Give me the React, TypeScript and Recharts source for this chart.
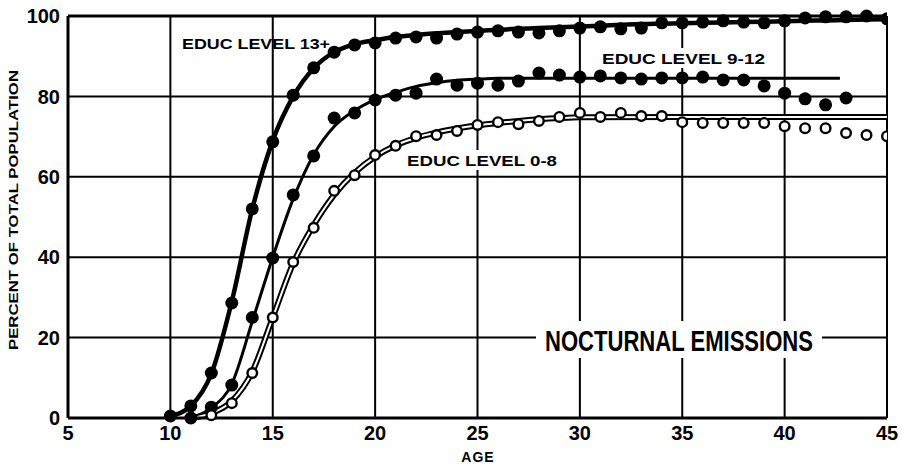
import { ComposedChart, Line, Scatter, XAxis, YAxis, CartesianGrid, ReferenceLine } from 'recharts'

const ageTicks = [5, 10, 15, 20, 25, 30, 35, 40, 45]
const pctTicks = [0, 20, 40, 60, 80, 100]

// plotted points
const agesHigh = [10, 11, 12, 13, 14, 15, 16, 17, 18, 19, 20, 21, 22, 23, 24, 25, 26, 27, 28, 29, 30, 31, 32, 33, 34, 35, 36, 37, 38, 39, 40, 41, 42, 43, 44, 45]
const pointsHigh = [0.5, 3, 11.2, 28.6, 52, 68.7, 80.3, 87.1, 91, 92.8, 93.3, 94.5, 94.8, 94.5, 95.5, 96, 96.3, 96, 95.8, 96.3, 97, 97.3, 96.8, 97, 98.3, 98.3, 98.5, 98.8, 98.5, 98.3, 98.8, 99.5, 99.8, 99.8, 100, 99.3]

const agesMid = [11, 12, 13, 14, 15, 16, 17, 18, 19, 20, 21, 22, 23, 24, 25, 26, 27, 28, 29, 30, 31, 32, 33, 34, 35, 36, 37, 38, 39, 40, 41, 42, 43]
const pointsMid = [0, 2.7, 8.2, 25, 39.8, 55.5, 65.2, 74.6, 75.9, 79.1, 80.3, 80.8, 84.3, 82.8, 83.3, 82.8, 83.8, 85.8, 85.3, 84.8, 85.1, 84.6, 84.3, 84.6, 84.6, 84.8, 84.1, 84.1, 82.6, 80.8, 79.4, 77.9, 79.6]

const agesLow = [12, 13, 14, 15, 16, 17, 18, 19, 20, 21, 22, 23, 24, 25, 26, 27, 28, 29, 30, 31, 32, 33, 34, 35, 36, 37, 38, 39, 40, 41, 42, 43, 44, 45]
const pointsLow = [0.7, 3.7, 11.2, 25, 38.8, 47.3, 56.5, 60.4, 65.4, 67.7, 70.1, 70.4, 71.4, 72.9, 73.6, 73.1, 73.9, 74.9, 75.9, 74.9, 75.9, 75.1, 75.1, 73.6, 73.4, 73.4, 73.4, 73.4, 72.6, 72.1, 72.1, 70.9, 70.4, 70.1]

// drawn (smoothed) curves
const fitHigh = [0.5, 3, 11, 29, 52, 69, 80, 87, 91, 93, 94, 94.8, 95.3, 95.7, 96, 96.3, 96.6, 96.8, 97, 97.2, 97.4, 97.6, 97.8, 98, 98.1, 98.2, 98.3, 98.4, 98.5, 98.6, 98.7, 98.8, 98.9, 99, 99.1, 99.2]

const fitMidAges = [11, 12, 13, 14, 15, 16, 17, 18, 19, 20, 21, 22, 23, 24, 25, 26, 30, 35, 40, 42.7]
const fitMid = [0, 2.5, 8.5, 24, 40, 54.5, 65.5, 72.5, 76.5, 79.2, 81, 82.5, 83.4, 84, 84.3, 84.5, 84.5, 84.5, 84.5, 84.5]

const fitLowAges = [11, 12, 13, 14, 15, 16, 17, 18, 19, 20, 21, 22, 23, 24, 25, 26, 27, 28, 29, 30, 35, 40, 45]
const fitLow = [0, 1.2, 4.2, 11.5, 25, 38.5, 48, 55.5, 61, 65, 67.8, 69.7, 71, 72, 72.8, 73.4, 73.9, 74.3, 74.6, 74.8, 74.9, 74.9, 74.9]

const zip = (xs: number[], ys: number[]) => xs.map((age, i) => ({ age, pct: ys[i] }))

const FONT = "'Liberation Sans', Arial, sans-serif"

const solidDot = (p: any) => <circle cx={p.cx} cy={p.cy} r={6.5} fill="#000" />
const openDot = (p: any) => <circle cx={p.cx} cy={p.cy} r={4.8} fill="#fff" stroke="#000" strokeWidth={2.4} />

export default function App() {
  const tick = { fontSize: 20, fontWeight: 700, fill: '#000', fontFamily: FONT }

  return (
    <div style={{ position: 'absolute', left: 0, top: 0, width: 902, height: 467, background: '#fff' }}>
      <ComposedChart width={902} height={467} margin={{ top: 16, right: 15, bottom: 19, left: 18 }}>
        <CartesianGrid stroke="#000" strokeWidth={2} />
        <XAxis
          type="number"
          dataKey="age"
          domain={[5, 45]}
          ticks={ageTicks}
          tickLine={false}
          axisLine={{ stroke: '#000', strokeWidth: 3 }}
          tick={tick}
          height={30}
          allowDataOverflow
        />
        <YAxis
          type="number"
          dataKey="pct"
          domain={[0, 100]}
          ticks={pctTicks}
          tickLine={false}
          axisLine={{ stroke: '#000', strokeWidth: 3 }}
          tick={tick}
          width={50}
        />
        <ReferenceLine y={100} stroke="#000" strokeWidth={3} />
        <ReferenceLine x={45} stroke="#000" strokeWidth={2} />

        <Line data={zip(agesHigh, fitHigh)} dataKey="pct" type="monotone" stroke="#000" strokeWidth={4.5} dot={false} isAnimationActive={false} />
        <Line data={zip(fitMidAges, fitMid)} dataKey="pct" type="monotone" stroke="#000" strokeWidth={3} dot={false} isAnimationActive={false} />
        <Line data={zip(fitLowAges, fitLow)} dataKey="pct" type="monotone" stroke="#000" strokeWidth={6} dot={false} isAnimationActive={false} />
        <Line data={zip(fitLowAges, fitLow)} dataKey="pct" type="monotone" stroke="#fff" strokeWidth={2} dot={false} isAnimationActive={false} />

        <Scatter data={zip(agesHigh, pointsHigh)} dataKey="pct" shape={solidDot} isAnimationActive={false} />
        <Scatter data={zip(agesMid, pointsMid)} dataKey="pct" shape={solidDot} isAnimationActive={false} />
        <Scatter data={zip(agesLow, pointsLow)} dataKey="pct" shape={openDot} isAnimationActive={false} />
      </ComposedChart>

      <svg
        width={902}
        height={467}
        style={{ position: 'absolute', left: 0, top: 0, pointerEvents: 'none' }}
        fontFamily={FONT}
        fontWeight={700}
      >
        <text
          x={0}
          y={0}
          transform="translate(18,210) rotate(-90)"
          textAnchor="middle"
          fontSize={12}
          textLength={280}
          lengthAdjust="spacingAndGlyphs"
        >
          PERCENT OF TOTAL POPULATION
        </text>
        <text x={478} y={462} textAnchor="middle" fontSize={14} letterSpacing={1}>AGE</text>

        <text x={182} y={49} fontSize={15} textLength={148} lengthAdjust="spacingAndGlyphs">EDUC LEVEL 13+</text>

        <rect x={598} y={48} width={172} height={20} fill="#fff" />
        <text x={602} y={64} fontSize={15} textLength={163} lengthAdjust="spacingAndGlyphs">EDUC LEVEL 9-12</text>

        <rect x={403} y={150} width={158} height={20} fill="#fff" />
        <text x={407} y={166} fontSize={15} textLength={150} lengthAdjust="spacingAndGlyphs">EDUC LEVEL 0-8</text>

        <rect x={536} y={321} width={286} height={37} fill="#fff" />
        <text x={545} y={351} fontSize={29} textLength={268} lengthAdjust="spacingAndGlyphs">NOCTURNAL EMISSIONS</text>
      </svg>
    </div>
  )
}
